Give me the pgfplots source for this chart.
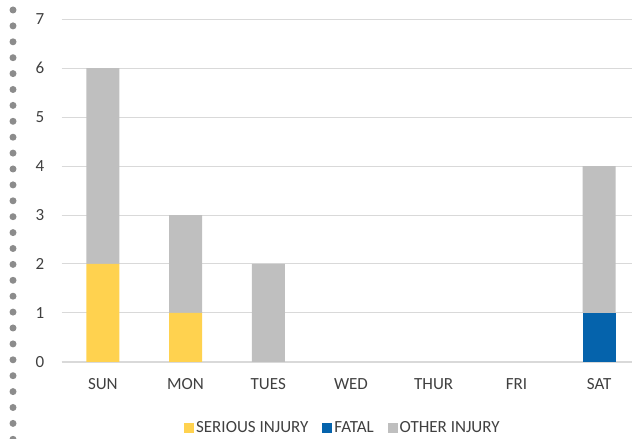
\documentclass[border=0pt]{standalone}
\usepackage{pgfplots}
\pgfplotsset{compat=1.18}
\usepackage{fontspec}
\setmainfont{Carlito}
\definecolor{seriouscol}{HTML}{FFD24F}
\definecolor{fatalcol}{HTML}{0563AC}
\definecolor{othercol}{HTML}{BFBFBF}
\definecolor{gridcol}{HTML}{D9D9D9}
\definecolor{textcol}{HTML}{404040}
\definecolor{dotcol}{HTML}{8C8C8C}
\begin{document}
\begin{tikzpicture}
\useasboundingbox (0,0) rectangle (632pt,439pt);
% dotted border at the left edge
\draw[dotcol, line width=7pt, line cap=round, dash pattern=on 0pt off 15.9pt] (13pt,429pt) -- (13pt,-10pt);
% the chart area runs past the right edge of the picture
\begin{axis}[
    at={(61.5pt,77pt)}, anchor=south west,
    scale only axis,
    width=579pt, height=343pt,
    ybar stacked, bar width=33pt,
    xmin=-0.5, xmax=6.5,
    ymin=0, ymax=7,
    ytick={0,1,...,7},
    xtick={0,...,6},
    xticklabels={SUN,MON,TUES,WED,THUR,FRI,SAT},
    axis x line=bottom, axis y line=left,
    x axis line style={-, gridcol, line width=1.3pt},
    y axis line style={draw=none},
    tick style={draw=none},
    ymajorgrids, grid style={gridcol, line width=1pt},
    /pgf/number format/assume math mode=true,
    tick label style={font=\fontsize{17}{20}\selectfont, text=textcol},
    yticklabel style={inner sep=0pt, xshift=-15pt},
    xticklabel style={inner sep=0pt, yshift=-14pt},
    area legend,
    legend columns=3,
    legend style={draw=none, at={(0.486,-0.192)}, anchor=center,
        font=\fontsize{17}{20}\selectfont, text=textcol,
        /tikz/every even column/.append style={column sep=12pt}},
    legend image code/.code={\fill[#1] (0pt,-5pt) rectangle (10pt,5pt);},
]
\addplot+[fill=seriouscol, draw=none] coordinates {(0,2) (1,1) (2,0) (3,0) (4,0) (5,0) (6,0)};
\addplot+[fill=fatalcol, draw=none] coordinates {(0,0) (1,0) (2,0) (3,0) (4,0) (5,0) (6,1)};
\addplot+[fill=othercol, draw=none] coordinates {(0,4) (1,2) (2,2) (3,0) (4,0) (5,0) (6,3)};
\legend{SERIOUS INJURY,FATAL,OTHER INJURY}
\end{axis}
\end{tikzpicture}
\end{document}
